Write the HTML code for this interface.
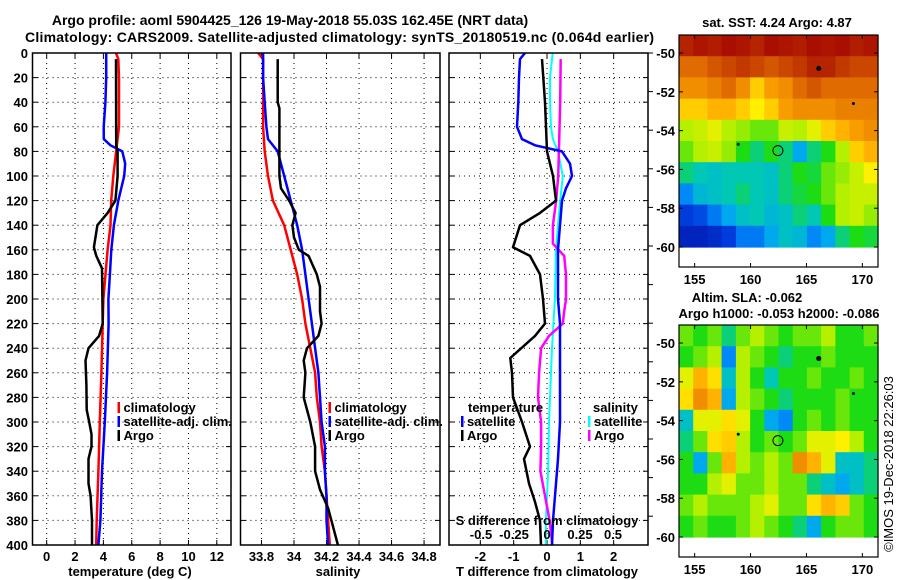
<!DOCTYPE html>
<html><head><meta charset="utf-8">
<style>
html,body{margin:0;padding:0;background:#fff;}
svg{display:block;font-family:"Liberation Sans",Arial,sans-serif;font-weight:bold;}
</style></head>
<body>
<svg id="c" width="900" height="580" viewBox="0 0 900 580" xmlns="http://www.w3.org/2000/svg">
<text x="290" y="25" font-size="14" text-anchor="middle">Argo profile: aoml 5904425_126 19-May-2018 55.03S 162.45E (NRT data)</text>
<text x="25" y="42" font-size="14" textLength="629">Climatology: CARS2009. Satellite-adjusted climatology: synTS_20180519.nc (0.064d earlier)</text>
<g id="plots"></g>
</svg>
<script>
// ---------- Profile data ----------
const tClimDepth=[0,5,20,60,100,120,140,160,180,200,220,260,300,340,380,400];
const tClimVal=[4.89,5.05,5.1,5.1,4.7,4.55,4.5,4.3,4.15,4.0,3.95,3.86,3.75,3.65,3.53,3.49];
const tSatDepth=[0,20,40,60,70,75,80,90,100,120,140,160,180,200,220,260,300,340,380,400];
const tSatVal=[4.2,4.2,4.14,4.02,4.03,4.5,5.33,5.54,5.47,5.05,4.74,4.56,4.46,4.35,4.37,4.26,4.1,3.9,3.79,3.65];
const tArgoDepth=[5,75,80,100,120,130,140,158,165,175,200,220,230,240,250,270,290,300,310,320,330,350,360,380,400];
const tArgoVal=[4.89,4.9,5.0,5.0,4.85,4.3,3.58,3.33,3.5,3.9,3.93,3.95,3.7,2.95,2.74,2.8,2.82,3.0,3.16,3.16,2.95,2.95,3.1,3.2,3.2];

const sClimDepth=[0,5,20,60,80,100,120,140,160,180,200,220,240,260,280,300,320,340,360,380,400];
const sClimVal=[33.78,33.81,33.81,33.81,33.82,33.84,33.87,33.94,33.98,34.02,34.05,34.07,34.10,34.13,34.14,34.16,34.17,34.19,34.20,34.21,34.22];
const sSatDepth=[0,20,40,60,70,80,100,120,140,160,180,200,220,240,260,280,300,320,340,360,380,400];
const sSatVal=[33.81,33.81,33.82,33.83,33.84,33.9,33.94,33.98,34.02,34.05,34.07,34.09,34.11,34.13,34.15,34.16,34.17,34.19,34.19,34.2,34.2,34.21];
const sArgoDepth=[5,40,45,100,110,120,130,140,150,160,165,180,190,210,220,230,240,250,260,280,300,320,340,355,370,385,400];
const sArgoVal=[33.9,33.9,33.91,33.91,33.92,33.97,34.01,33.99,34.0,34.03,34.09,34.14,34.16,34.16,34.17,34.15,34.08,34.06,34.07,34.06,34.1,34.13,34.13,34.16,34.21,34.24,34.27];

const dTSatDepth=[0,5,20,40,60,70,75,80,90,100,110,120,140,160,200,220,300,330,360,380,400];
const dTSatVal=[-0.66,-0.81,-0.84,-0.86,-0.9,-0.75,-0.36,0.45,0.69,0.75,0.57,0.45,0.39,0.33,0.33,0.39,0.39,0.33,0.24,0.18,0.15];
const dTArgoDepth=[5,40,80,100,120,130,140,158,165,180,200,220,230,248,260,280,300,320,330,350,365,380,400];
const dTArgoVal=[-0.15,-0.06,0,0.18,0.27,-0.21,-0.81,-1.02,-0.51,-0.21,-0.12,-0.06,-0.36,-1.1,-1.05,-1.02,-0.75,-0.51,-0.69,-0.54,-0.36,-0.21,-0.18];
const dSSatDepth=[0,20,40,60,70,80,100,120,140,160,200,240,300,340,380,400];
const dSSatVal=[0.043,0.023,0.023,0.03,0.045,0.083,0.12,0.1,0.083,0.068,0.06,0.038,0.015,0.008,-0.008,-0.008];
const dSArgoDepth=[5,40,80,100,120,140,155,165,180,200,210,220,230,240,260,280,300,320,340,360,380,400];
const dSArgoVal=[0.104,0.1,0.09,0.085,0.07,0.045,0.045,0.13,0.144,0.144,0.13,0.12,0.015,-0.045,-0.06,-0.068,-0.045,-0.045,-0.05,-0.015,0.02,0.04];

const tTicks=[0,2,4,6,8,10,12];
const sTicks=[33.8,34,34.2,34.4,34.6,34.8];
const sTickLabels=["33.8","34","34.2","34.4","34.6","34.8"];
const dTTicks=[-2,-1,0,1,2];
const dSTicks=[-0.5,-0.25,0,0.25,0.5];
const dSTickLabels=["-0.5","-0.25","0","0.25","0.5"];
const depthTicks=[0,20,40,60,80,100,120,140,160,180,200,220,240,260,280,300,320,340,360,380,400];

// ---------- Map data (value 0..1 on colour scale) ----------
const sstRow0=[0.95,0.97,0.96,0.98,0.97,0.95,0.98,0.97,0.96,0.98,0.97,0.98,0.96,0.97];
const sstRow1=[0.85,0.85,0.88,0.9,0.92,0.9,0.88,0.9,0.92,0.95,0.95,0.92,0.9,0.9];
const sstRow2=[0.8,0.8,0.82,0.85,0.8,0.72,0.78,0.8,0.85,0.88,0.85,0.85,0.85,0.85];
const sstRow3=[0.72,0.72,0.75,0.75,0.72,0.68,0.72,0.78,0.8,0.8,0.8,0.82,0.82,0.82];
const sstRow4=[0.6,0.62,0.65,0.6,0.58,0.55,0.55,0.62,0.6,0.65,0.72,0.75,0.78,0.8];
const sstRow5=[0.55,0.6,0.62,0.58,0.5,0.45,0.5,0.45,0.35,0.45,0.5,0.6,0.72,0.75];
const sstRow6=[0.45,0.42,0.4,0.42,0.42,0.42,0.4,0.45,0.5,0.48,0.55,0.58,0.62,0.68];
const sstRow7=[0.3,0.38,0.4,0.42,0.45,0.42,0.4,0.45,0.48,0.5,0.55,0.6,0.62,0.62];
const sstRow8=[0.2,0.22,0.28,0.35,0.4,0.42,0.38,0.4,0.45,0.42,0.5,0.6,0.62,0.58];
const sstRow9=[0.12,0.12,0.15,0.2,0.28,0.28,0.35,0.4,0.38,0.3,0.35,0.45,0.5,0.48];
const slaRow0=[0.55,0.5,0.55,0.45,0.55,0.6,0.55,0.5,0.55,0.55,0.6,0.5,0.5,0.55];
const slaRow1=[0.5,0.55,0.6,0.3,0.6,0.55,0.5,0.45,0.5,0.5,0.55,0.5,0.5,0.5];
const slaRow2=[0.65,0.75,0.7,0.4,0.6,0.5,0.42,0.5,0.5,0.55,0.5,0.5,0.55,0.5];
const slaRow3=[0.7,0.8,0.75,0.35,0.6,0.55,0.5,0.45,0.5,0.5,0.5,0.55,0.5,0.5];
const slaRow4=[0.4,0.65,0.65,0.7,0.65,0.5,0.35,0.3,0.5,0.55,0.5,0.55,0.5,0.5];
const slaRow5=[0.45,0.55,0.7,0.72,0.6,0.5,0.55,0.5,0.55,0.65,0.65,0.68,0.6,0.5];
const slaRow6=[0.5,0.35,0.55,0.75,0.6,0.55,0.6,0.55,0.8,0.75,0.65,0.4,0.4,0.45];
const slaRow7=[0.5,0.5,0.6,0.65,0.55,0.55,0.6,0.55,0.55,0.45,0.4,0.35,0.4,0.45];
const slaRow8=[0.55,0.6,0.55,0.55,0.55,0.6,0.65,0.55,0.55,0.7,0.75,0.72,0.55,0.5];
const slaRow9=[0.5,0.55,0.5,0.5,0.55,0.6,0.55,0.5,0.45,0.35,0.5,0.55,0.55,0.5];
const lonTicks=[155,160,165,170];
const latTicks=[-50,-52,-54,-56,-58,-60];
const markerLon=[166.1,169.2,158.9];
const markerLat=[-50.8,-52.6,-54.7];
const floatLon=162.45, floatLat=-55.03;

// ---------- rendering ----------
const NS="http://www.w3.org/2000/svg";
const root=document.getElementById('plots');
function mk(tag,attrs,parent){const e=document.createElementNS(NS,tag);for(const k in attrs)e.setAttribute(k,attrs[k]);(parent||root).appendChild(e);return e;}
function txt(x,y,s,size,anchor,parent){const e=mk('text',{x:x,y:y,'font-size':size,'text-anchor':anchor||'middle'},parent);e.textContent=s;return e;}

const Y0=53,Y1=545;
const yD=d=>Y0+(d/400)*(Y1-Y0);

function panel(name,x0,x1,xmin,xmax){
  const g=mk('g',{});
  
  
  const xs=v=>x0+(v-xmin)/(xmax-xmin)*(x1-x0);
  return {g,xs,x0,x1};
}
function frame(p){
  const r=mk('rect',{x:p.x0,y:Y0,width:p.x1-p.x0,height:Y1-Y0,fill:'none',stroke:'#000','stroke-width':1.5},p.g);
  
  
}
function hgrid(p){
  depthTicks.forEach(d=>{
    const y=yD(d);
    mk('line',{x1:p.x0,x2:p.x1,y1:y,y2:y,stroke:'#000','stroke-dasharray':'1,4','stroke-width':1},p.g);
    mk('line',{x1:p.x0,x2:p.x0+5,y1:y,y2:y,stroke:'#000'},p.g);
    mk('line',{x1:p.x1-5,x2:p.x1,y1:y,y2:y,stroke:'#000'},p.g);
  });
}
function vgrid(p,ticks,labels,ly){
  ticks.forEach((t,i)=>{
    const x=p.xs(t);
    mk('line',{x1:x,x2:x,y1:Y0,y2:Y1,stroke:'#000','stroke-dasharray':'1,4','stroke-width':1},p.g);
    mk('line',{x1:x,x2:x,y1:Y1-5,y2:Y1,stroke:'#000'},p.g);
    mk('line',{x1:x,x2:x,y1:Y0,y2:Y0+5,stroke:'#000'},p.g);
    if(labels){const t2=txt(x,ly,labels[i],13,'middle',p.g);
      
      }
  });
}
function series(p,name,depths,vals,color,w,xs){
  const f=xs||p.xs;
  const pts=depths.map((d,i)=>f(vals[i]).toFixed(1)+','+yD(d).toFixed(1)).join(' ');
  const l=mk('polyline',{points:pts,fill:'none',stroke:color,'stroke-width':w,'stroke-linejoin':'round'},p.g);
  
  
}
function legend(p,x,y,items,nameBase){
  items.forEach((it,i)=>{
    const yy=y+i*14;
    mk('rect',{x:x,y:yy-10,width:2.5,height:11,fill:it[1]},p.g);
    const t=txt(x+6,yy,it[0],13,'start',p.g);
    
    
  });
}

// Panel 1 temperature
const p1=panel('temperature-panel',32.5,231,-1,13);
hgrid(p1); vgrid(p1,tTicks,tTicks.map(String),561);
depthTicks.forEach(d=>{const t=txt(28,yD(d)+5,String(d),13,'end',p1.g);
  
  });
series(p1,'temperature-climatology',tClimDepth,tClimVal,'#f00',2.5);
series(p1,'temperature-satellite-adj',tSatDepth,tSatVal,'#00f',2.5);
series(p1,'temperature-argo',tArgoDepth,tArgoVal,'#000',2.5);
frame(p1);
legend(p1,117.5,412,[['climatology','#f00'],['satellite-adj. clim.','#00f'],['Argo','#000']],'temperature-legend-entry');
{const t=txt(130,576,'temperature (deg C)',13,'middle',p1.g);}

// Panel 2 salinity
const p2=panel('salinity-panel',240.5,440,33.671,34.898);
hgrid(p2); vgrid(p2,sTicks,sTickLabels,561);
series(p2,'salinity-climatology',sClimDepth,sClimVal,'#f00',2.5);
series(p2,'salinity-satellite-adj',sSatDepth,sSatVal,'#00f',2.5);
series(p2,'salinity-argo',sArgoDepth,sArgoVal,'#000',2.5);
frame(p2);
legend(p2,328.5,412,[['climatology','#f00'],['satellite-adj. clim.','#00f'],['Argo','#000']],'salinity-legend-entry');
{const t=txt(338,576,'salinity',13,'middle',p2.g);}

// Panel 3 differences
const p3=panel('difference-panel',449,648,-2.94,3.03);
const xsS=v=>547+v*132;
hgrid(p3); vgrid(p3,dTTicks,dTTicks.map(String),561);
for(let y=Y0;y<=Y1+1;y+=38.6){mk('line',{x1:p3.x1,x2:p3.x1+5,y1:y,y2:y,stroke:'#000'},p3.g);}
series(p3,'s-diff-satellite',dSSatDepth,dSSatVal,'#0ff',2,xsS);
series(p3,'s-diff-argo',dSArgoDepth,dSArgoVal,'#f0f',2.5,xsS);
series(p3,'t-diff-satellite',dTSatDepth,dTSatVal,'#00f',2.5);
series(p3,'t-diff-argo',dTArgoDepth,dTArgoVal,'#000',2.5);
frame(p3);
{const t=txt(468,412,'temperature',13,'start',p3.g);}
legend(p3,461,426,[['satellite','#00f'],['Argo','#000']],'t-diff-legend-entry');
{const t=txt(593,412,'salinity',13,'start',p3.g);}
legend(p3,588,426,[['satellite','#0ff'],['Argo','#f0f']],'s-diff-legend-entry');
{const t=txt(547,525,'S difference from climatology',13,'middle',p3.g);}
dSTicks.forEach((v,i)=>{const t=txt(xsS(v),539,dSTickLabels[i],13,'middle',p3.g);
  
  });
{const t=txt(547,576,'T difference from climatology',13,'middle',p3.g);}

// ---------- Maps ----------
const stops=[[0,[0,0,140]],[0.2,[0,60,220]],[0.33,[0,160,255]],[0.42,[0,200,180]],[0.5,[30,220,20]],[0.6,[180,240,0]],[0.68,[255,240,0]],[0.76,[255,170,0]],[0.86,[220,100,0]],[1,[160,0,0]]];
function col(v){
  for(let i=1;i<stops.length;i++){if(v<=stops[i][0]){const a=stops[i-1],b=stops[i];const t=(v-a[0])/(b[0]-a[0]);
    return 'rgb('+a[1].map((c,k)=>Math.round(c+(b[1][k]-c)*t)).join(',')+')';}}
  return 'rgb(160,0,0)';
}
const LON0=153.6,LON1=171.4,LATT=-49.07,LATB=-61.03;
function drawMap(name,top,rows){
  const g=mk('g',{});
  
  
  const x0=679,x1=878,y0=top,y1=top+232;
  const xs=l=>x0+(l-LON0)/(LON1-LON0)*(x1-x0);
  const ys=la=>y0+(LATT-la)/(LATT-LATB)*(y1-y0);
  const nr=rows.length,nc=rows[0].length;
  const latStep=(LATT-(-60))/nr,lonStep=(LON1-LON0)/nc;
  rows.forEach((row,r)=>row.forEach((v,c)=>{
    const xa=xs(LON0+c*lonStep),xb=xs(LON0+(c+1)*lonStep);
    const ya=ys(LATT-r*latStep),yb=ys(LATT-(r+1)*latStep);
    const cell=mk('rect',{x:xa.toFixed(1),y:ya.toFixed(1),width:(xb-xa+0.6).toFixed(1),height:(yb-ya+0.6).toFixed(1),fill:col(v)},g);
    
    
  }));
  latTicks.forEach(la=>{const y=ys(la);
    mk('line',{x1:x0,x2:x0+4,y1:y,y2:y,stroke:'#000'},g);
    mk('line',{x1:x1-4,x2:x1,y1:y,y2:y,stroke:'#000'},g);
    const t=txt(675,y+5,String(la),13,'end',g);
    
    });
  lonTicks.forEach(lo=>{const x=xs(lo);
    mk('line',{x1:x,x2:x,y1:y1-4,y2:y1,stroke:'#000'},g);
    mk('line',{x1:x,x2:x,y1:y0,y2:y0+4,stroke:'#000'},g);
    const t=txt(x,y1+17,String(lo),13,'middle',g);
    
    });
  markerLon.forEach((lo,i)=>{const m=mk('circle',{cx:xs(lo),cy:ys(markerLat[i]),r:i==0?2.5:1.5,fill:'#000'},g);
    
    });
  const c=mk('circle',{cx:xs(floatLon),cy:ys(floatLat),r:5,fill:'none',stroke:'#000','stroke-width':1},g);
  
  
  mk('rect',{x:x0,y:y0,width:x1-x0,height:y1-y0,fill:'none',stroke:'#000','stroke-width':1.2},g);
}
drawMap('sst-map',35,[sstRow0,sstRow1,sstRow2,sstRow3,sstRow4,sstRow5,sstRow6,sstRow7,sstRow8,sstRow9]);
drawMap('sla-map',325,[slaRow0,slaRow1,slaRow2,slaRow3,slaRow4,slaRow5,slaRow6,slaRow7,slaRow8,slaRow9]);
{const t=txt(777,27,'sat. SST: 4.24 Argo: 4.87',13,'middle');}
{const t=txt(747,302,'Altim. SLA: -0.062',13,'middle');}
{const t=txt(779,318,'Argo h1000: -0.053 h2000: -0.086',13,'middle');}
{const t=mk('text',{x:0,y:0,'font-size':13,'font-weight':'normal','text-anchor':'middle',transform:'translate(893,464) rotate(-90)'});
 t.textContent='©IMOS 19-Dec-2018 22:26:03';
 
 }
</script>
</body></html>
